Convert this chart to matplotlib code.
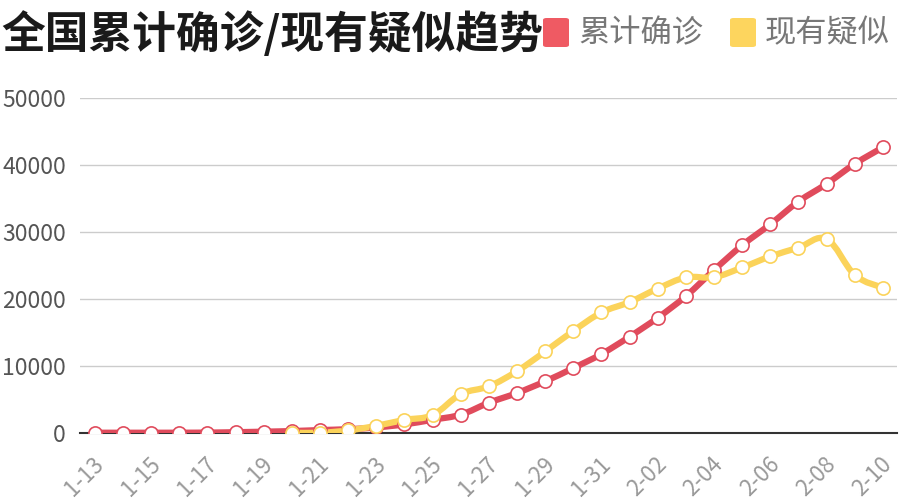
import matplotlib
matplotlib.use("Agg")
import matplotlib.pyplot as plt
from matplotlib.path import Path
from matplotlib.patches import PathPatch, FancyBboxPatch
import matplotlib.transforms as mtransforms
import numpy as np

plt.rcParams['font.family'] = ['Noto Sans CJK SC', 'DejaVu Sans']

dates = ['1-13', '1-14', '1-15', '1-16', '1-17', '1-18', '1-19', '1-20', '1-21', '1-22',
         '1-23', '1-24', '1-25', '1-26', '1-27', '1-28', '1-29', '1-30', '1-31', '2-01',
         '2-02', '2-03', '2-04', '2-05', '2-06', '2-07', '2-08', '2-09', '2-10']
confirmed = [41, 41, 41, 45, 62, 121, 198, 291, 440, 571,
             830, 1287, 1975, 2744, 4515, 5974, 7711, 9692, 11791, 14380,
             17205, 20438, 24324, 28018, 31161, 34546, 37198, 40171, 42638]
suspected = [None, None, None, None, None, None, None, 54, 37, 393,
             1072, 1965, 2684, 5794, 6973, 9239, 12167, 15238, 17988, 19544,
             21558, 23214, 23260, 24702, 26359, 27657, 28942, 23589, 21675]
series_names = ['累计确诊', '现有疑似']
y_ticks = [0, 10000, 20000, 30000, 40000, 50000]

RED = '#e04b5c'
YEL = '#fbd35a'
RED_LEG = '#ef5a63'
YEL_LEG = '#fdd55e'

W, H = 903, 504
fig = plt.figure(figsize=(W / 100, H / 100), dpi=100)
ax = fig.add_axes([80 / W, (H - 433) / H, 817 / W, 335 / H])


def smooth_path(xs, ys, s=0.18):
    pts = np.column_stack([xs, ys]).astype(float)
    n = len(pts)
    verts = [pts[0]]
    codes = [Path.MOVETO]
    for i in range(n - 1):
        p0 = pts[i - 1] if i > 0 else pts[i]
        p1 = pts[i]
        p2 = pts[i + 1]
        p3 = pts[i + 2] if i + 2 < n else pts[i + 1]
        c1 = p1 + (p2 - p0) * s
        c2 = p2 - (p3 - p1) * s
        verts += [c1, c2, p2]
        codes += [Path.CURVE4] * 3
    return Path(verts, codes)


x_all = np.arange(len(dates))
cx, cy = x_all, np.array(confirmed, dtype=float)
sidx = [i for i, v in enumerate(suspected) if v is not None]
sx, sy = np.array(sidx), np.array([suspected[i] for i in sidx], dtype=float)

for (xs, ys, col, z) in [(cx, cy, RED, 3), (sx, sy, YEL, 4)]:
    patch = PathPatch(smooth_path(xs, ys), facecolor='none', edgecolor=col,
                      lw=4.5, capstyle='round', joinstyle='round', zorder=z)
    ax.add_patch(patch)
ax.plot(cx, cy, ls='none', marker='o', ms=9.5, mfc='white', mec=RED, mew=1.2, zorder=5)
ax.plot(sx, sy, ls='none', marker='o', ms=9.5, mfc='white', mec=YEL, mew=1.2, zorder=6)

ax.set_xlim(-0.53, len(dates) - 1 + 0.5)
ax.set_ylim(0, 50000)
ax.set_yticks(y_ticks)
ax.set_yticklabels([str(v) for v in y_ticks], color='#555555', fontsize=16.5)
ax.grid(axis='y', color='#cccccc', lw=1)
ax.set_axisbelow(True)
for sp in ['top', 'right', 'left']:
    ax.spines[sp].set_visible(False)
ax.spines['bottom'].set_color('#333333')
ax.spines['bottom'].set_linewidth(1.5)
ax.tick_params(axis='y', length=0, pad=10)

xt = list(range(0, len(dates), 2))
ax.set_xticks(xt)
ax.set_xticklabels([dates[i] for i in xt], rotation=45, ha='right', va='center',
                   rotation_mode='anchor', color='#999999', fontsize=16)
ax.tick_params(axis='x', length=0, pad=20)
offset = mtransforms.ScaledTranslation(4 / 72, 0, fig.dpi_scale_trans)
for lab in ax.get_xticklabels():
    lab.set_transform(lab.get_transform() + offset)

fig.text(1 / W, 1 - 34 / H, '全国累计确诊/现有疑似趋势', fontsize=31.5, fontweight='bold',
         color='#1a1a1a', ha='left', va='center')

for (x0, col, name) in [(543, RED_LEG, series_names[0]), (730, YEL_LEG, series_names[1])]:
    fig.patches.append(FancyBboxPatch((x0 / W, 1 - 47 / H), 26 / W, 29 / H,
                                      boxstyle='round,pad=0,rounding_size=0.004',
                                      transform=fig.transFigure, facecolor=col,
                                      edgecolor='none'))
    fig.text((x0 + 35) / W, 1 - 33 / H, name, fontsize=22.5, color='#777777',
             ha='left', va='center')

fig.savefig('out.png', dpi=100)
